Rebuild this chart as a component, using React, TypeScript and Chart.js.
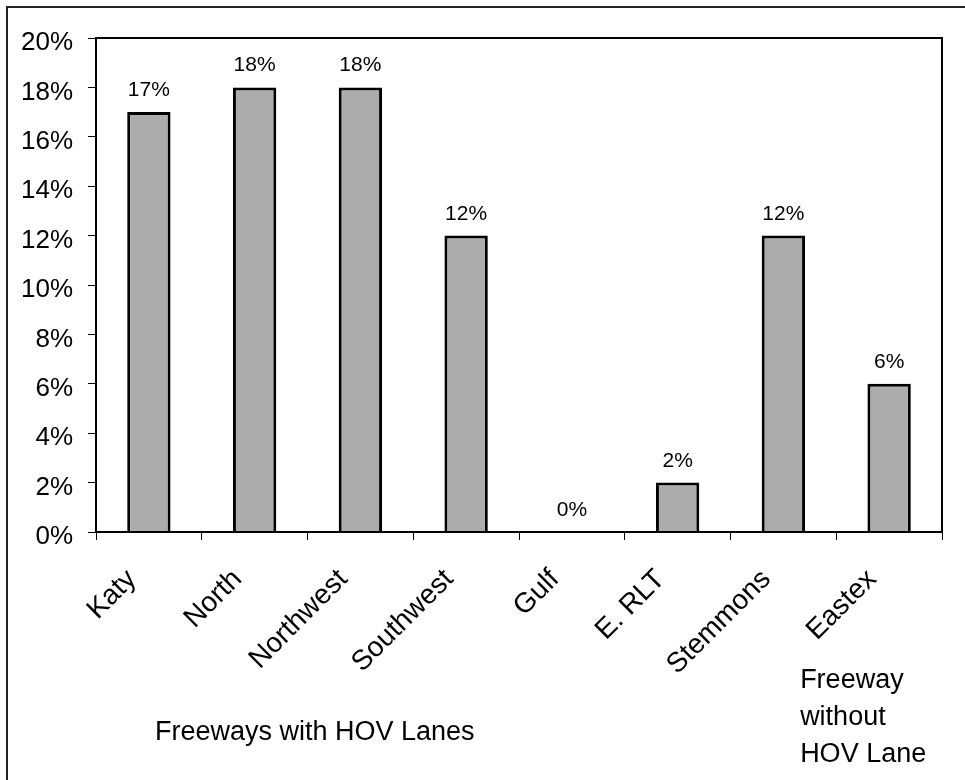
import React, { useEffect, useRef } from "react";
import { Chart, registerables } from "chart.js";

Chart.register(...registerables);

const categories = ["Katy", "North", "Northwest", "Southwest", "Gulf", "E. RLT", "Stemmons", "Eastex"];
const shares = [17, 18, 18, 12, 0, 2, 12, 6];
const yMin = 0;
const yMax = 20;
const yStep = 2;
const groupNote = "Freeways with HOV Lanes";
const eastexNote = ["Freeway", "without", "HOV Lane"];

const FONT = "'Liberation Sans', Arial, Helvetica, sans-serif";

const decorPlugin = {
  id: "decor",
  afterDraw(chart: any) {
    const ctx = chart.ctx;
    const area = chart.chartArea;
    const xs = chart.scales.x;
    const meta = chart.getDatasetMeta(0);
    ctx.save();
    // plot frame
    ctx.strokeStyle = "#000";
    ctx.lineWidth = 2;
    ctx.strokeRect(area.left, area.top, area.right - area.left, area.bottom - area.top);
    // data labels
    ctx.fillStyle = "#000";
    ctx.font = `21px ${FONT}`;
    ctx.textAlign = "center";
    ctx.textBaseline = "alphabetic";
    meta.data.forEach((bar: any, i: number) => {
      ctx.fillText(shares[i] + "%", bar.x, bar.y - 16);
    });
    // annotations
    ctx.font = `27px ${FONT}`;
    ctx.textAlign = "left";
    ctx.fillText(groupNote, area.left + 59, 740);
    const ex = xs.getPixelForValue(7) - 89;
    eastexNote.forEach((line, i) => {
      ctx.fillText(line, ex, 688 + i * 37);
    });
    // outer frame
    ctx.strokeStyle = "#222";
    ctx.lineWidth = 2;
    ctx.beginPath();
    ctx.moveTo(7, chart.height);
    ctx.lineTo(7, 7);
    ctx.lineTo(chart.width, 7);
    ctx.stroke();
    ctx.restore();
  },
};

export default function App() {
  const ref = useRef<HTMLCanvasElement>(null);
  useEffect(() => {
    document.body.style.margin = "0";
    const chart = new Chart(ref.current as HTMLCanvasElement, {
      type: "bar",
      data: {
        labels: categories,
        datasets: [
          {
            data: shares,
            backgroundColor: "#acacac",
            borderColor: "#000",
            borderWidth: 3,
            categoryPercentage: 1,
            barPercentage: 0.41,
          },
        ],
      },
      options: {
        animation: false,
        responsive: false,
        maintainAspectRatio: false,
        layout: { padding: { top: 38, right: 23, left: 0, bottom: 0 } },
        plugins: { legend: { display: false }, tooltip: { enabled: false } },
        scales: {
          x: {
            grid: { drawOnChartArea: false, drawTicks: true, tickLength: 8, color: "#000", offset: true },
            border: { color: "#000", width: 2 },
            ticks: {
              autoSkip: false,
              maxRotation: 45,
              minRotation: 45,
              color: "#000",
              font: { family: FONT, size: 28 },
              padding: 23,
              labelOffset: -17,
            },
            afterFit(scale: any) {
              scale.height = 248;
            },
          },
          y: {
            min: yMin,
            max: yMax,
            grid: { drawOnChartArea: false, drawTicks: true, tickLength: 8, color: "#000" },
            border: { color: "#000", width: 2 },
            ticks: {
              stepSize: yStep,
              color: "#000",
              font: { family: FONT, size: 26 },
              padding: 15,
              labelOffset: 5,
              callback: (v: any) => v + "%",
            },
            afterFit(scale: any) {
              scale.width = 96;
            },
          },
        },
      },
      plugins: [decorPlugin],
    });
    return () => chart.destroy();
  }, []);
  return (
    <div style={{ width: 965, height: 780, position: "relative", background: "#fff" }}>
      <canvas ref={ref} width={965} height={780} style={{ display: "block" }} />
    </div>
  );
}
